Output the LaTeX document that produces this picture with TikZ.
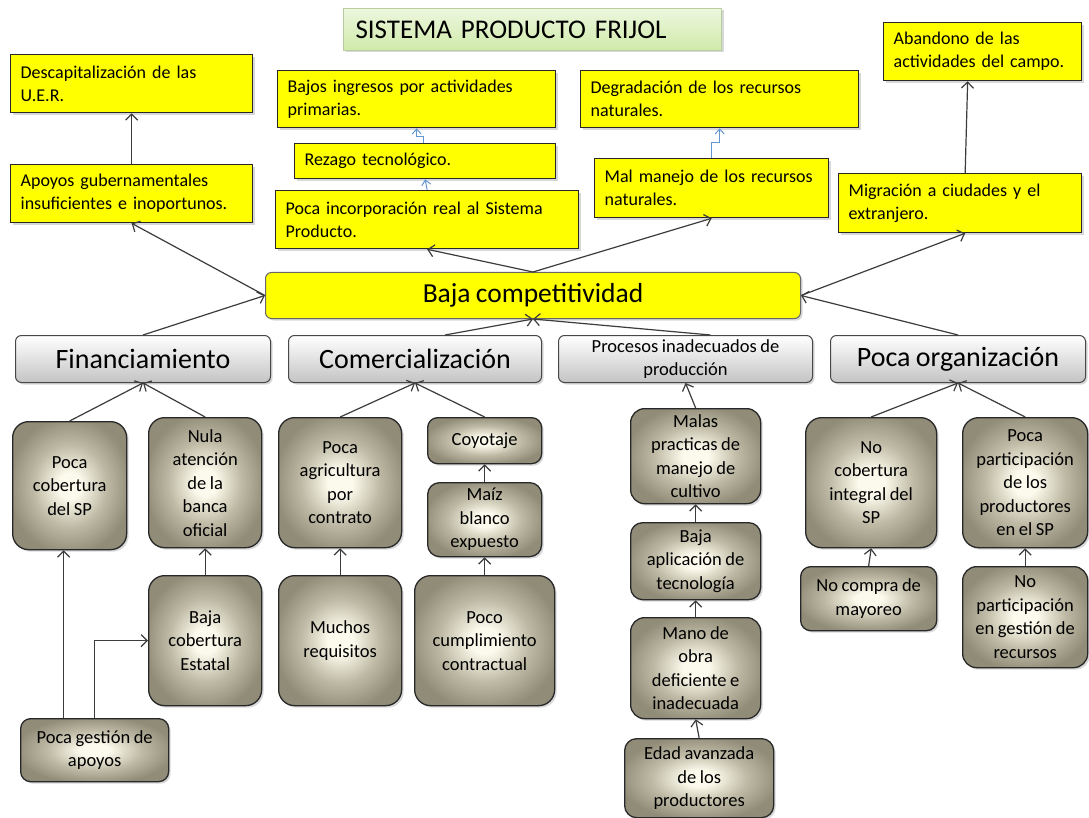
\documentclass[tikz,border=0pt]{standalone}
\usepackage{fontspec}
\setmainfont{Carlito}[WordSpace=0.85]
\usetikzlibrary{arrows.meta,shadows,calc}
\definecolor{ylw}{RGB}{255,255,0}
\definecolor{edge}{RGB}{40,40,40}
\definecolor{conn}{RGB}{60,60,60}
\definecolor{cream}{RGB}{252,250,236}
\definecolor{khakimid}{RGB}{190,186,165}
\definecolor{khaki}{RGB}{145,140,120}
\definecolor{bluec}{RGB}{100,150,210}
\definecolor{gtop}{RGB}{236,247,222}
\definecolor{gbot}{RGB}{208,234,170}
\definecolor{gedge}{RGB}{185,205,160}
\definecolor{cbot}{RGB}{196,196,196}
\pgfdeclareradialshading{brownrad}{\pgfpoint{0bp}{0bp}}{color(0bp)=(cream); color(5bp)=(cream); color(16bp)=(khakimid); color(27bp)=(khaki); color(50bp)=(khaki)}
\tikzset{
 shad/.style={drop shadow={shadow xshift=2pt,shadow yshift=-2pt,opacity=0.3}},
 ybox/.style={draw=edge, line width=1.3pt, fill=ylw, anchor=north west, align=left,
   inner xsep=10pt, font=\fontsize{18}{23}\selectfont, shad},
 bbox/.style={draw=edge, line width=1.3pt, rounded corners=16pt, shading=brownrad,
   anchor=north west, align=center, inner sep=2pt,
   font=\fontsize{18.5}{23.5}\selectfont, shad},
 cbox/.style={draw=edge!85, line width=1pt, rounded corners=6pt, top color=white,
   bottom color=cbot, anchor=north west, align=center, inner sep=2pt,
   font=\fontsize{28}{30}\selectfont, shad},
 arr/.style={draw=conn, line width=1.2pt, -{Straight Barb[length=6pt,width=12pt]}},
 barr/.style={draw=bluec, line width=1pt, -{Straight Barb[length=5pt,width=9pt]}},
}
\begin{document}
\begin{tikzpicture}[x=1pt,y=-1pt]
\useasboundingbox[fill=white] (0,0) rectangle (1089,818);

% title
\node[draw=gedge, line width=1pt, top color=gtop, bottom color=gbot, anchor=north west,
  minimum width=378pt, minimum height=42pt, text width=354pt, inner xsep=12pt, align=left,
  font=\fontsize{27}{30}\selectfont, shad] (title) at (343,8) {SISTEMA PRODUCTO FRIJOL};

% yellow effect boxes
\node[ybox, minimum width=242pt, minimum height=58pt, text width=222pt] (descap) at (10,54) {Descapitalización de las\\U.E.R.};
\node[ybox, minimum width=278pt, minimum height=57pt, text width=258pt] (bajos) at (277,70) {Bajos ingresos por actividades\\primarias.};
\node[ybox, minimum width=278pt, minimum height=57pt, text width=258pt] (degr) at (580,70) {Degradación de los recursos\\naturales.};
\node[ybox, minimum width=198pt, minimum height=58pt, text width=178pt] (aband) at (883,22) {Abandono de las\\actividades del campo.};
\node[ybox, minimum width=261pt, minimum height=35pt, text width=241pt] (rezago) at (294,143) {Rezago tecnológico.};
\node[ybox, minimum width=303pt, minimum height=58pt, text width=283pt] (incorp) at (275,190) {Poca incorporación real al Sistema\\Producto.};
\node[ybox, minimum width=234pt, minimum height=59pt, text width=214pt] (malm) at (594,158) {Mal manejo de los recursos\\naturales.};
\node[ybox, minimum width=242pt, minimum height=58pt, text width=222pt] (apoyos) at (10,164) {Apoyos gubernamentales\\insuficientes e inoportunos.};
\node[ybox, minimum width=243pt, minimum height=59pt, text width=223pt] (migr) at (838,173) {Migración a ciudades y el\\extranjero.};

% central box
\node[draw=edge!70, line width=1pt, fill=ylw, rounded corners=6pt, anchor=north west,
  minimum width=535pt, minimum height=46pt, font=\fontsize{27.5}{30}\selectfont, shad] (baja) at (265,272) {Baja competitividad};

% categories
\node[cbox, minimum width=255pt, minimum height=47pt] (fin) at (15,335) {Financiamiento};
\node[cbox, minimum width=253pt, minimum height=47pt] (com) at (288,335) {Comercialización};
\node[cbox, minimum width=254pt, minimum height=47pt, font=\fontsize{18.5}{23}\selectfont] (proc) at (558,335) {Procesos inadecuados de\\producción};
\node[cbox, minimum width=255pt, minimum height=47pt] (porg) at (830,335) {Poca organización};

% Financiamiento branch
\node[bbox, minimum width=114pt, minimum height=128pt] (pcob) at (12,421) {Poca\\cobertura\\del SP};
\node[bbox, minimum width=113pt, minimum height=130pt] (nula) at (148,417) {Nula\\atención\\de la\\banca\\oficial};
\node[bbox, minimum width=113pt, minimum height=130pt] (bcob) at (148,575) {Baja\\cobertura\\Estatal};
\node[bbox, minimum width=148pt, minimum height=63pt, rounded corners=10pt] (gest) at (20,718) {Poca gestión de\\apoyos};

% Comercializacion branch
\node[bbox, minimum width=123pt, minimum height=130pt] (pagr) at (278,417) {Poca\\agricultura\\por\\contrato};
\node[bbox, minimum width=123pt, minimum height=130pt] (much) at (278,575) {Muchos\\requisitos};
\node[bbox, minimum width=114pt, minimum height=46pt, rounded corners=10pt] (coyo) at (427,417) {Coyotaje};
\node[bbox, minimum width=114pt, minimum height=74pt, rounded corners=12pt] (maiz) at (427,482) {Maíz\\blanco\\expuesto};
\node[bbox, minimum width=140pt, minimum height=130pt] (pcum) at (414,575) {Poco\\cumplimiento\\contractual};

% Procesos branch
\node[bbox, minimum width=130pt, minimum height=95pt, rounded corners=14pt] (malas) at (630,408) {Malas\\practicas de\\manejo de\\cultivo};
\node[bbox, minimum width=130pt, minimum height=77pt, rounded corners=12pt] (bapl) at (630,522) {Baja\\aplicación de\\tecnología};
\node[bbox, minimum width=130pt, minimum height=101pt, rounded corners=14pt] (mano) at (630,617) {Mano de\\obra\\deficiente e\\inadecuada};
\node[bbox, minimum width=149pt, minimum height=79pt, rounded corners=12pt] (edad) at (624,738) {Edad avanzada\\de los\\productores};

% Poca organizacion branch
\node[bbox, minimum width=131pt, minimum height=130pt] (ncob) at (805,417) {No\\cobertura\\integral del\\SP};
\node[bbox, minimum width=125pt, minimum height=130pt] (ppar) at (962,417) {Poca\\participación\\de los\\productores\\en el SP};
\node[bbox, minimum width=136pt, minimum height=64pt, rounded corners=10pt] (ncom) at (800,566) {No compra de\\mayoreo};
\node[bbox, minimum width=125pt, minimum height=101pt, rounded corners=14pt] (npar) at (962,566) {No\\participación\\en gestión de\\recursos};

% connectors: top
\draw[arr] (apoyos.north) -- (descap.south);
\draw[barr] (incorp.north) -- (rezago.south);
\draw[barr] ([xshift=-1.5pt]rezago.north) -- ++(0,-6) -| (bajos.south);
\draw[barr] (malm.north) -- ++(0,-15) -| (degr.south);
\draw[arr] ([xshift=5pt]migr.north) -- ([xshift=-15pt]aband.south);
\draw[arr] (baja.north) -- (incorp.south);
\draw[arr] (baja.north) -- (malm.south);
\draw[arr] (baja.west) -- (apoyos.south);
\draw[arr] (baja.east) -- ([xshift=5pt]migr.south);
\draw[arr] (fin.north) -- (baja.west);
\draw[arr] (porg.north) -- (baja.east);
\draw[arr] ([xshift=30pt]com.north) -- (baja.south);
\draw[arr] ([xshift=25pt]proc.north) -- (baja.south);

% connectors: branches
\draw[arr] (pcob.north) -- (fin.south);
\draw[arr] (nula.north) -- (fin.south);
\draw[arr] (bcob.north) -- (nula.south);
\draw[arr] ([xshift=-31pt]gest.north) -- ([xshift=-6pt]pcob.south);
\draw[arr] (gest.north) |- (bcob.west);

\draw[arr] (pagr.north) -- (com.south);
\draw[arr] (coyo.north) -- (com.south);
\draw[arr] (much.north) -- (pagr.south);
\draw[arr] (maiz.north) -- (coyo.south);
\draw[arr] (pcum.north) -- (maiz.south);

\draw[arr] (malas.north) -- (proc.south);
\draw[arr] (bapl.north) -- (malas.south);
\draw[arr] (mano.north) -- (bapl.south);
\draw[arr] (edad.north) -- (mano.south);

\draw[arr] (ncob.north) -- (porg.south);
\draw[arr] (ppar.north) -- (porg.south);
\draw[arr] (ncom.north) -- (ncob.south);
\draw[arr] (npar.north) -- (ppar.south);
\end{tikzpicture}
\end{document}
